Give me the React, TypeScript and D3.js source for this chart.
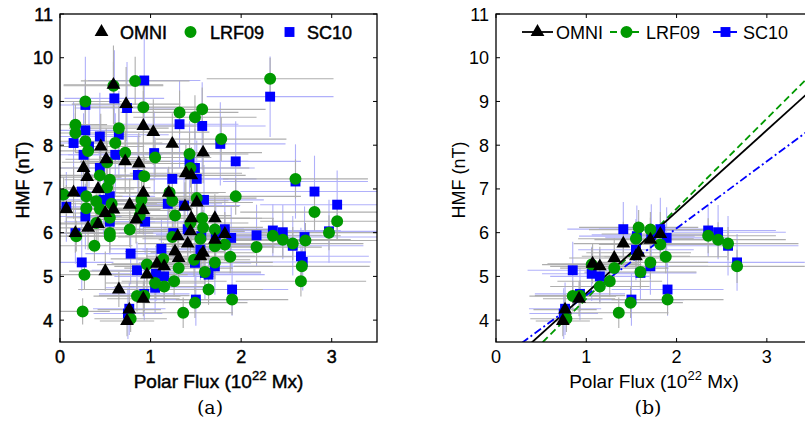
import React, { useEffect } from "react";
import * as d3 from "d3";

// [polar flux, HMF, flux error, HMF error]
type Pt = [number, number, number, number];

const omniAll: Pt[] = [
  [0.07,6.54,0.30,0.55],[0.17,5.99,0.35,0.45],[0.15,6.92,0.32,0.60],[0.26,7.48,0.40,0.70],
  [0.30,7.27,0.38,0.65],[0.31,6.11,0.42,0.50],[0.42,6.20,0.45,0.55],[0.42,7.00,0.40,0.60],
  [0.45,7.97,0.48,0.75],[0.51,7.68,0.45,0.70],[0.50,6.45,0.50,0.55],[0.59,6.53,0.52,0.60],
  [0.59,9.38,0.55,0.90],[0.73,8.94,0.60,0.85],[0.72,7.63,0.50,0.70],[0.77,6.64,0.55,0.60],
  [0.87,7.58,0.60,0.70],[0.92,8.44,0.58,0.80],[1.03,8.30,0.62,0.75],[0.92,6.91,0.55,0.60],
  [0.92,6.51,0.50,0.55],[0.84,6.30,0.48,0.55],[0.50,5.12,0.40,0.45],[0.65,4.70,0.45,0.40],
  [0.765,4.24,0.35,0.35],[0.74,3.98,0.30,0.35],[0.92,4.49,0.40,0.40],[0.96,5.04,0.45,0.45],
  [1.07,5.29,0.50,0.45],[1.15,5.23,0.55,0.45],[1.24,8.03,0.60,0.70],[1.20,6.91,0.55,0.60],
  [1.30,5.92,0.58,0.50],[1.27,5.57,0.55,0.45],[1.31,5.42,0.50,0.45],[1.38,6.60,0.60,0.55],
  [1.39,7.36,0.62,0.65],[1.45,7.31,0.60,0.65],[1.45,6.33,0.65,0.55],[1.44,6.03,0.60,0.50],
  [1.41,5.75,0.55,0.50],[1.51,6.69,0.62,0.60],[1.58,7.83,0.65,0.70],[1.55,5.46,0.60,0.45],
  [1.58,5.54,0.58,0.50],[1.71,6.33,0.65,0.55],[1.71,5.84,0.62,0.50],[1.82,5.97,0.65,0.50],
];

const lrf09All: Pt[] = [
  [0.04,6.87,0.30,0.40],[0.17,8.28,0.35,0.45],[0.17,8.47,0.35,0.45],[0.18,5.92,0.35,0.35],
  [0.28,9.00,0.40,0.50],[0.28,8.09,0.40,0.45],[0.31,7.87,0.42,0.45],[0.25,4.20,0.30,0.30],
  [0.27,5.04,0.35,0.35],[0.29,6.83,0.40,0.40],[0.29,6.56,0.40,0.40],[0.38,5.70,0.42,0.35],
  [0.40,6.72,0.45,0.40],[0.44,7.31,0.45,0.45],[0.44,6.54,0.45,0.40],[0.40,6.22,0.42,0.40],
  [0.52,7.03,0.48,0.42],[0.55,7.21,0.50,0.45],[0.57,6.66,0.50,0.40],[0.55,5.99,0.48,0.38],
  [0.55,5.92,0.48,0.38],[0.52,7.61,0.50,0.45],[0.61,8.05,0.52,0.48],[0.65,8.39,0.55,0.50],
  [0.59,9.36,0.55,0.55],[0.72,7.83,0.55,0.45],[0.77,6.07,0.55,0.40],[0.83,9.47,0.60,0.55],
  [0.92,8.87,0.62,0.50],[0.93,7.29,0.60,0.45],[0.88,6.39,0.58,0.40],[0.90,6.75,0.58,0.42],
  [1.05,7.72,0.62,0.45],[0.96,5.27,0.55,0.38],[1.05,4.85,0.55,0.35],[0.85,4.55,0.48,0.35],
  [0.93,4.56,0.50,0.35],[0.78,4.03,0.40,0.30],[1.15,4.77,0.55,0.35],[1.14,5.40,0.58,0.38],
  [1.26,4.89,0.58,0.35],[1.31,5.19,0.60,0.38],[1.27,6.39,0.62,0.42],[1.24,5.90,0.60,0.40],
  [1.24,6.73,0.62,0.42],[1.21,6.92,0.62,0.45],[1.32,8.75,0.65,0.50],[1.36,4.17,0.55,0.35],
  [1.43,7.80,0.65,0.48],[1.44,7.48,0.65,0.45],[1.49,8.64,0.68,0.50],[1.57,8.82,0.70,0.50],
  [1.51,6.79,0.66,0.42],[1.49,4.40,0.58,0.35],[1.48,5.38,0.62,0.38],[1.57,6.33,0.66,0.42],
  [1.58,6.12,0.66,0.40],[1.55,5.86,0.64,0.40],[1.60,5.10,0.62,0.38],[1.64,4.70,0.60,0.35],
  [1.71,6.07,0.68,0.40],[1.71,5.69,0.66,0.38],[1.71,5.32,0.64,0.38],[1.78,8.14,0.72,0.50],
  [1.82,5.73,0.68,0.38],[1.88,5.45,0.68,0.38],[1.90,4.47,0.62,0.35],[1.94,6.83,0.72,0.42],
  [2.32,9.52,0.70,0.48],[2.17,5.67,0.72,0.38],[2.35,5.93,0.75,0.40],[2.46,5.84,0.75,0.40],
  [2.57,5.75,0.78,0.38],[2.60,7.23,0.80,0.45],[2.67,5.23,0.75,0.38],[2.66,4.89,0.72,0.35],
  [2.71,5.82,0.80,0.40],[2.81,6.47,0.82,0.42],[2.97,6.00,0.85,0.40],[3.06,6.26,0.85,0.42],
  [0.55,6.34,0.48,0.40],[1.44,6.22,0.64,0.40],[0.89,6.56,0.58,0.42],
];

const sc10All: Pt[] = [
  [0.07,6.59,0.30,0.80],[0.15,8.05,0.35,0.95],[0.17,5.99,0.35,0.70],[0.24,5.32,0.35,0.65],
  [0.28,8.92,0.40,1.10],[0.28,8.34,0.40,1.00],[0.26,7.78,0.40,0.95],[0.28,6.37,0.40,0.75],
  [0.24,6.94,0.38,0.85],[0.32,7.97,0.42,0.95],[0.44,8.20,0.45,1.00],[0.44,7.48,0.45,0.90],
  [0.48,6.75,0.48,0.80],[0.55,6.83,0.50,0.80],[0.55,6.25,0.50,0.75],[0.60,9.07,0.55,1.10],
  [0.61,7.78,0.52,0.95],[0.65,8.24,0.55,1.00],[0.74,8.85,0.58,1.05],[0.78,5.52,0.50,0.70],
  [0.85,5.14,0.50,0.65],[0.93,9.48,0.62,1.15],[0.86,7.32,0.58,0.90],[0.94,6.25,0.58,0.75],
  [1.04,7.82,0.62,0.95],[1.12,5.63,0.58,0.70],[1.05,4.74,0.55,0.60],[1.15,5.00,0.55,0.62],
  [1.32,8.48,0.65,1.00],[1.24,7.23,0.62,0.88],[1.19,6.66,0.60,0.80],[1.25,5.99,0.60,0.72],
  [1.37,6.62,0.62,0.80],[1.41,6.08,0.62,0.62],[1.43,7.63,0.65,0.92],[1.49,7.48,0.66,0.90],
  [1.51,7.23,0.66,0.88],[1.57,8.44,0.70,1.00],[1.59,6.75,0.66,0.80],[1.55,5.61,0.64,0.70],
  [1.49,5.31,0.62,0.65],[1.50,4.47,0.58,0.60],[1.64,5.04,0.62,0.62],[1.71,5.23,0.64,0.65],
  [1.77,8.03,0.72,0.95],[1.82,6.08,0.68,0.72],[1.89,5.88,0.68,0.70],[1.90,4.70,0.62,0.60],
  [1.94,7.63,0.72,0.92],[2.32,9.11,0.70,0.92],[2.17,5.94,0.72,0.70],[2.35,6.05,0.75,0.60],
  [2.46,6.01,0.75,0.62],[2.57,5.70,0.78,0.68],[2.60,7.17,0.80,0.85],[2.66,5.46,0.75,0.65],
  [2.68,5.33,0.75,0.65],[2.70,5.90,0.80,0.70],[2.81,6.94,0.82,0.82],[2.97,6.03,0.85,0.72],
  [3.06,6.64,0.85,0.78],[0.765,4.26,0.40,0.60],[1.56,5.92,0.64,0.70],[0.75,4.15,0.38,0.58],
  [0.93,4.60,0.50,0.60],[1.06,5.06,0.55,0.62],[1.60,5.08,0.62,0.62],[1.72,5.95,0.66,0.70],
];

// Solar-minimum subset (panel b)
const omniMin: Pt[] = [
  [0.74,3.98,0.30,0.35],[0.765,4.24,0.35,0.35],[0.92,4.49,0.40,0.40],[1.07,5.29,0.50,0.45],
  [1.15,5.23,0.55,0.45],[1.31,5.42,0.50,0.45],[1.41,5.75,0.55,0.50],[1.55,5.46,0.60,0.45],
  [1.58,5.54,0.58,0.50],[1.71,5.84,0.62,0.50],[1.82,5.97,0.65,0.50],
];
const lrf09Min: Pt[] = [
  [0.78,4.03,0.40,0.30],[0.85,4.55,0.48,0.35],[0.93,4.56,0.50,0.35],[1.06,5.27,0.55,0.38],
  [1.15,4.77,0.55,0.35],[1.26,4.89,0.58,0.35],[1.31,5.19,0.60,0.38],[1.36,4.17,0.55,0.35],
  [1.49,4.40,0.58,0.35],[1.55,5.86,0.64,0.40],[1.58,6.12,0.66,0.40],[1.60,5.10,0.62,0.38],
  [1.71,6.07,0.68,0.40],[1.71,5.32,0.64,0.38],[1.82,5.73,0.68,0.38],[1.88,5.45,0.68,0.38],
  [1.90,4.47,0.62,0.35],[2.35,5.93,0.75,0.40],[2.46,5.84,0.75,0.40],[2.57,5.75,0.78,0.38],
  [2.67,5.23,0.75,0.38],
];
const sc10Min: Pt[] = [
  [0.75,4.15,0.38,0.58],[0.765,4.26,0.40,0.60],[0.85,5.14,0.50,0.65],[0.93,4.60,0.50,0.60],
  [1.06,5.06,0.55,0.62],[1.15,5.00,0.55,0.62],[1.41,6.08,0.62,0.62],[1.50,4.47,0.58,0.60],
  [1.55,5.61,0.64,0.70],[1.60,5.08,0.62,0.62],[1.71,5.23,0.64,0.65],[1.82,6.08,0.68,0.72],
  [1.89,5.88,0.68,0.70],[1.90,4.70,0.62,0.60],[2.35,6.05,0.75,0.60],[2.46,6.01,0.75,0.62],
  [2.57,5.70,0.78,0.68],[2.67,5.32,0.75,0.65],[1.56,5.92,0.64,0.70],[1.72,5.95,0.66,0.70],
];

const seriesNames = ["OMNI", "LRF09", "SC10"];
const fitIntercept = [2.75, 2.43, 3.04];
const fitSlope = [1.865, 2.06, 1.53];
const xTicks = [0, 1, 2, 3];
const yTicks = [4, 5, 6, 7, 8, 9, 10, 11];
const xDomain: [number, number] = [0, 3.5];
const yDomain: [number, number] = [3.5, 11];

// styling
const markerColor = ["#000000", "#009900", "#0000ff"];
const barColor = ["#aeaeae", "#aeaeae", "#b0b0fa"];
const symbolType = [d3.symbolTriangle, d3.symbolCircle, d3.symbolSquare];
const symbolSize = [82, 113, 98];
const lineDash = ["", "7,4", "8,3,2,3"];
const FONT = "'Liberation Sans', Arial, Helvetica, sans-serif";
const TOP = 14;
const BOTTOM = 342;

function Panel(props: {
  id: string; left: number; right: number; data: Pt[][]; fits: boolean;
  bold: boolean; caption: string; captionX: number;
}) {
  const { id, left, right, data, fits, bold, caption, captionX } = props;
  const x = d3.scaleLinear().domain(xDomain).range([left, right]);
  const y = d3.scaleLinear().domain(yDomain).range([BOTTOM, TOP]);
  const sym = (i: number) => d3.symbol().type(symbolType[i]).size(symbolSize[i])() as string;
  const txtStroke = bold ? { stroke: "#000", strokeWidth: 0.45 } : {};
  const order = [2, 1, 0];
  const fitLine = (i: number) =>
    d3.line<number>().x((v) => x(v)).y((v) => y(fitIntercept[i] + fitSlope[i] * v))(xDomain) as string;
  const legendMarkX = [41.5, 130.5, 229.5];
  const legendTextX = [60, 150, 247];
  const legendLine = [[26, 57], [114, 147], [217, 244]];
  const ly = 32;
  return (
    <g>
      <defs>
        <clipPath id={id}>
          <rect x={left} y={TOP} width={right - left} height={BOTTOM - TOP} />
        </clipPath>
      </defs>
      <g clipPath={`url(#${id})`}>
        {order.map((s) =>
          data[s].map((p, k) => (
            <g key={`e${s}-${k}`} stroke={barColor[s]} strokeWidth={1.1}>
              <line x1={x(p[0] - p[2])} x2={x(p[0] + p[2])} y1={y(p[1])} y2={y(p[1])} />
              <line x1={x(p[0])} x2={x(p[0])} y1={y(p[1] - p[3])} y2={y(p[1] + p[3])} />
            </g>
          ))
        )}
        {fits &&
          order.map((s) => (
            <path key={`f${s}`} d={fitLine(s)} fill="none" stroke={markerColor[s]}
              strokeWidth={1.8} strokeDasharray={lineDash[s]} />
          ))}
        {order.map((s) =>
          data[s].map((p, k) => (
            <path key={`m${s}-${k}`} d={sym(s)} transform={`translate(${x(p[0])},${y(p[1])})`}
              fill={markerColor[s]} />
          ))
        )}
      </g>
      {/* frame */}
      <rect x={left} y={TOP} width={right - left} height={BOTTOM - TOP} fill="none" stroke="#000" strokeWidth={1.3} />
      {xTicks.map((t) => (
        <g key={`xt${t}`}>
          <line x1={x(t)} x2={x(t)} y1={BOTTOM} y2={BOTTOM - 4} stroke="#000" />
          <line x1={x(t)} x2={x(t)} y1={TOP} y2={TOP + 4} stroke="#000" />
          <text x={x(t)} y={363} textAnchor="middle" fontFamily={FONT} fontSize={18} {...txtStroke}>{t}</text>
        </g>
      ))}
      {yTicks.map((t) => (
        <g key={`yt${t}`}>
          <line x1={left} x2={left + 4} y1={y(t)} y2={y(t)} stroke="#000" />
          <line x1={right} x2={right - 4} y1={y(t)} y2={y(t)} stroke="#000" />
          <text x={left - 7} y={y(t) + 6.5} textAnchor="end" fontFamily={FONT} fontSize={18} {...txtStroke}>{t}</text>
        </g>
      ))}
      <text x={(left + right) / 2} y={388} textAnchor="middle" fontFamily={FONT} fontSize={19} {...txtStroke}>
        Polar Flux (10<tspan fontSize={13} dy={-8}>22</tspan><tspan dy={8}> Mx)</tspan>
      </text>
      <text transform={`translate(${left - 31},${(TOP + BOTTOM) / 2 + 2}) rotate(-90)`} textAnchor="middle"
        fontFamily={FONT} fontSize={18} {...txtStroke}>HMF (nT)</text>
      {/* legend */}
      {seriesNames.map((n, i) => (
        <g key={`lg${i}`}>
          {fits && (
            <line x1={left + legendLine[i][0]} x2={left + legendLine[i][1]} y1={ly} y2={ly}
              stroke={markerColor[i]} strokeWidth={1.8} strokeDasharray={lineDash[i]} />
          )}
          <path d={sym(i)} transform={`translate(${left + legendMarkX[i]},${ly})`} fill={markerColor[i]} />
          <text x={left + legendTextX[i]} y={38.5} fontFamily={FONT} fontSize={18} {...txtStroke}>{n}</text>
        </g>
      ))}
      <text x={captionX} y={414} textAnchor="middle" fontFamily="'DejaVu Serif', 'Liberation Serif', serif" fontSize={19}>
        {caption}
      </text>
    </g>
  );
}

export default function App() {
  useEffect(() => {
    document.body.style.margin = "0";
  }, []);
  return (
    <svg width={805} height={425} viewBox="0 0 805 425"
      style={{ position: "absolute", left: 0, top: 0, background: "#fff" }}>
      <rect width={805} height={425} fill="#fff" />
      <Panel id="clipA" left={60} right={377} data={[omniAll, lrf09All, sc10All]} fits={false}
        bold={true} caption="(a)" captionX={210} />
      <Panel id="clipB" left={496} right={812} data={[omniMin, lrf09Min, sc10Min]} fits={true}
        bold={false} caption="(b)" captionX={648} />
    </svg>
  );
}
